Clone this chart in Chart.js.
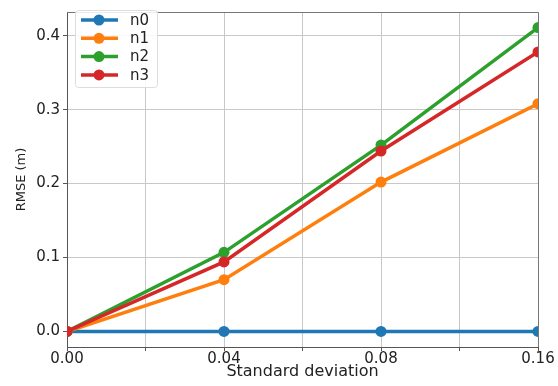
<!DOCTYPE html>
<html>
<head>
<meta charset="utf-8">
<script src="https://cdn.jsdelivr.net/npm/chart.js@4/dist/chart.umd.min.js"></script>
<style>
  html, body { margin: 0; padding: 0; background: #fff; }
  #wrap { width: 558px; height: 386px; }
</style>
</head>
<body>
<div id="wrap"><canvas id="rmse-chart"></canvas></div>
<script>
const xLabels = ['0.00', '0.04', '0.08', '0.16'];
const seriesNames = ['n0', 'n1', 'n2', 'n3'];
const n0 = [0, 0, 0, 0];
const n1 = [0, 0.070, 0.202, 0.308];
const n2 = [0, 0.107, 0.252, 0.411];
const n3 = [0, 0.094, 0.244, 0.378];
const yTicks = [0, 0.1, 0.2, 0.3, 0.4];

const colors = ['#1f77b4', '#ff7f0e', '#2ca02c', '#d62728'];
const allSeries = [n0, n1, n2, n3];
const FONT = "'DejaVu Sans', sans-serif";

const datasets = allSeries.map((vals, i) => ({
  label: seriesNames[i],
  data: vals.map((v, k) => ({ x: k, y: v })),
  borderColor: colors[i],
  backgroundColor: colors[i],
  borderWidth: 3.5,
  pointRadius: 5.5,
  pointHoverRadius: 5.5,
  pointBorderWidth: 0,
  tension: 0,
  clip: 0,
  order: 3 - i
}));

// clip the marks to the axes box, like matplotlib does
const clipPlugin = {
  id: 'clipAxes',
  beforeDatasetsDraw(chart) {
    const a = chart.chartArea;
    chart.ctx.save();
    chart.ctx.beginPath();
    chart.ctx.rect(a.left, a.top, a.right - a.left, a.bottom - a.top);
    chart.ctx.clip();
  },
  afterDatasetsDraw(chart) {
    chart.ctx.restore();
  }
};

// top/right spines + legend inside the axes
const framePlugin = {
  id: 'frame',
  afterDraw(chart) {
    const ctx = chart.ctx;
    const a = chart.chartArea;
    ctx.save();
    ctx.strokeStyle = '#777';
    ctx.lineWidth = 1;
    ctx.beginPath();
    ctx.moveTo(a.left, a.top + 0.5);
    ctx.lineTo(a.right + 0.5, a.top + 0.5);
    ctx.lineTo(a.right + 0.5, a.bottom);
    ctx.stroke();

    const bx = 75.5, by = 10.5, bw = 82, bh = 77;
    ctx.fillStyle = 'rgba(255,255,255,0.85)';
    ctx.strokeStyle = '#ddd';
    ctx.beginPath();
    ctx.roundRect(bx, by, bw, bh, 3);
    ctx.fill();
    ctx.stroke();
    ctx.font = '15px ' + FONT;
    ctx.textBaseline = 'middle';
    seriesNames.forEach((name, i) => {
      const y = 20 + i * 18.3;
      ctx.strokeStyle = colors[i];
      ctx.lineWidth = 3.5;
      ctx.beginPath();
      ctx.moveTo(81, y);
      ctx.lineTo(118, y);
      ctx.stroke();
      ctx.fillStyle = colors[i];
      ctx.beginPath();
      ctx.arc(99, y, 5.5, 0, Math.PI * 2);
      ctx.fill();
      ctx.fillStyle = '#222';
      ctx.fillText(name, 130, y + 1);
    });
    ctx.restore();
  }
};

new Chart(document.getElementById('rmse-chart'), {
  type: 'line',
  data: { datasets },
  options: {
    responsive: true,
    maintainAspectRatio: false,
    animation: false,
    layout: { padding: { top: 4, right: 20, left: 0, bottom: 0 } },
    plugins: {
      legend: { display: false },
      tooltip: { enabled: false }
    },
    scales: {
      x: {
        type: 'linear',
        min: 0,
        max: 3,
        afterBuildTicks(scale) {
          scale.ticks = [0, 0.5, 1, 1.5, 2, 2.5, 3].map(v => ({ value: v }));
        },
        afterFit(scale) { scale.height = 39; },
        ticks: {
          autoSkip: false,
          maxRotation: 0,
          padding: -1,
          color: '#222',
          font: { family: FONT, size: 15 },
          callback: (v) => Number.isInteger(v) ? xLabels[v] : ''
        },
        grid: { color: '#c8c8c8', lineWidth: 1, tickLength: 4, tickColor: '#555' },
        border: { color: '#555', width: 1 },
        title: {
          display: true,
          text: 'Standard deviation',
          color: '#222',
          font: { family: FONT, size: 16 },
          padding: { top: 0, bottom: 5 }
        }
      },
      y: {
        min: -0.021,
        max: 0.432,
        afterBuildTicks(scale) {
          scale.ticks = yTicks.map(v => ({ value: v }));
        },
        afterFit(scale) { scale.width = 67; },
        ticks: {
          padding: 3,
          color: '#222',
          font: { family: FONT, size: 15 },
          callback: (v) => v.toFixed(1)
        },
        grid: { color: '#c8c8c8', lineWidth: 1, tickLength: 4, tickColor: '#555' },
        border: { color: '#555', width: 1 },
        title: {
          display: true,
          text: 'RMSE (m)',
          color: '#222',
          font: { family: FONT, size: 13 },
          padding: { top: 14, bottom: 0 }
        }
      }
    }
  },
  plugins: [clipPlugin, framePlugin]
});
</script>
</body>
</html>
